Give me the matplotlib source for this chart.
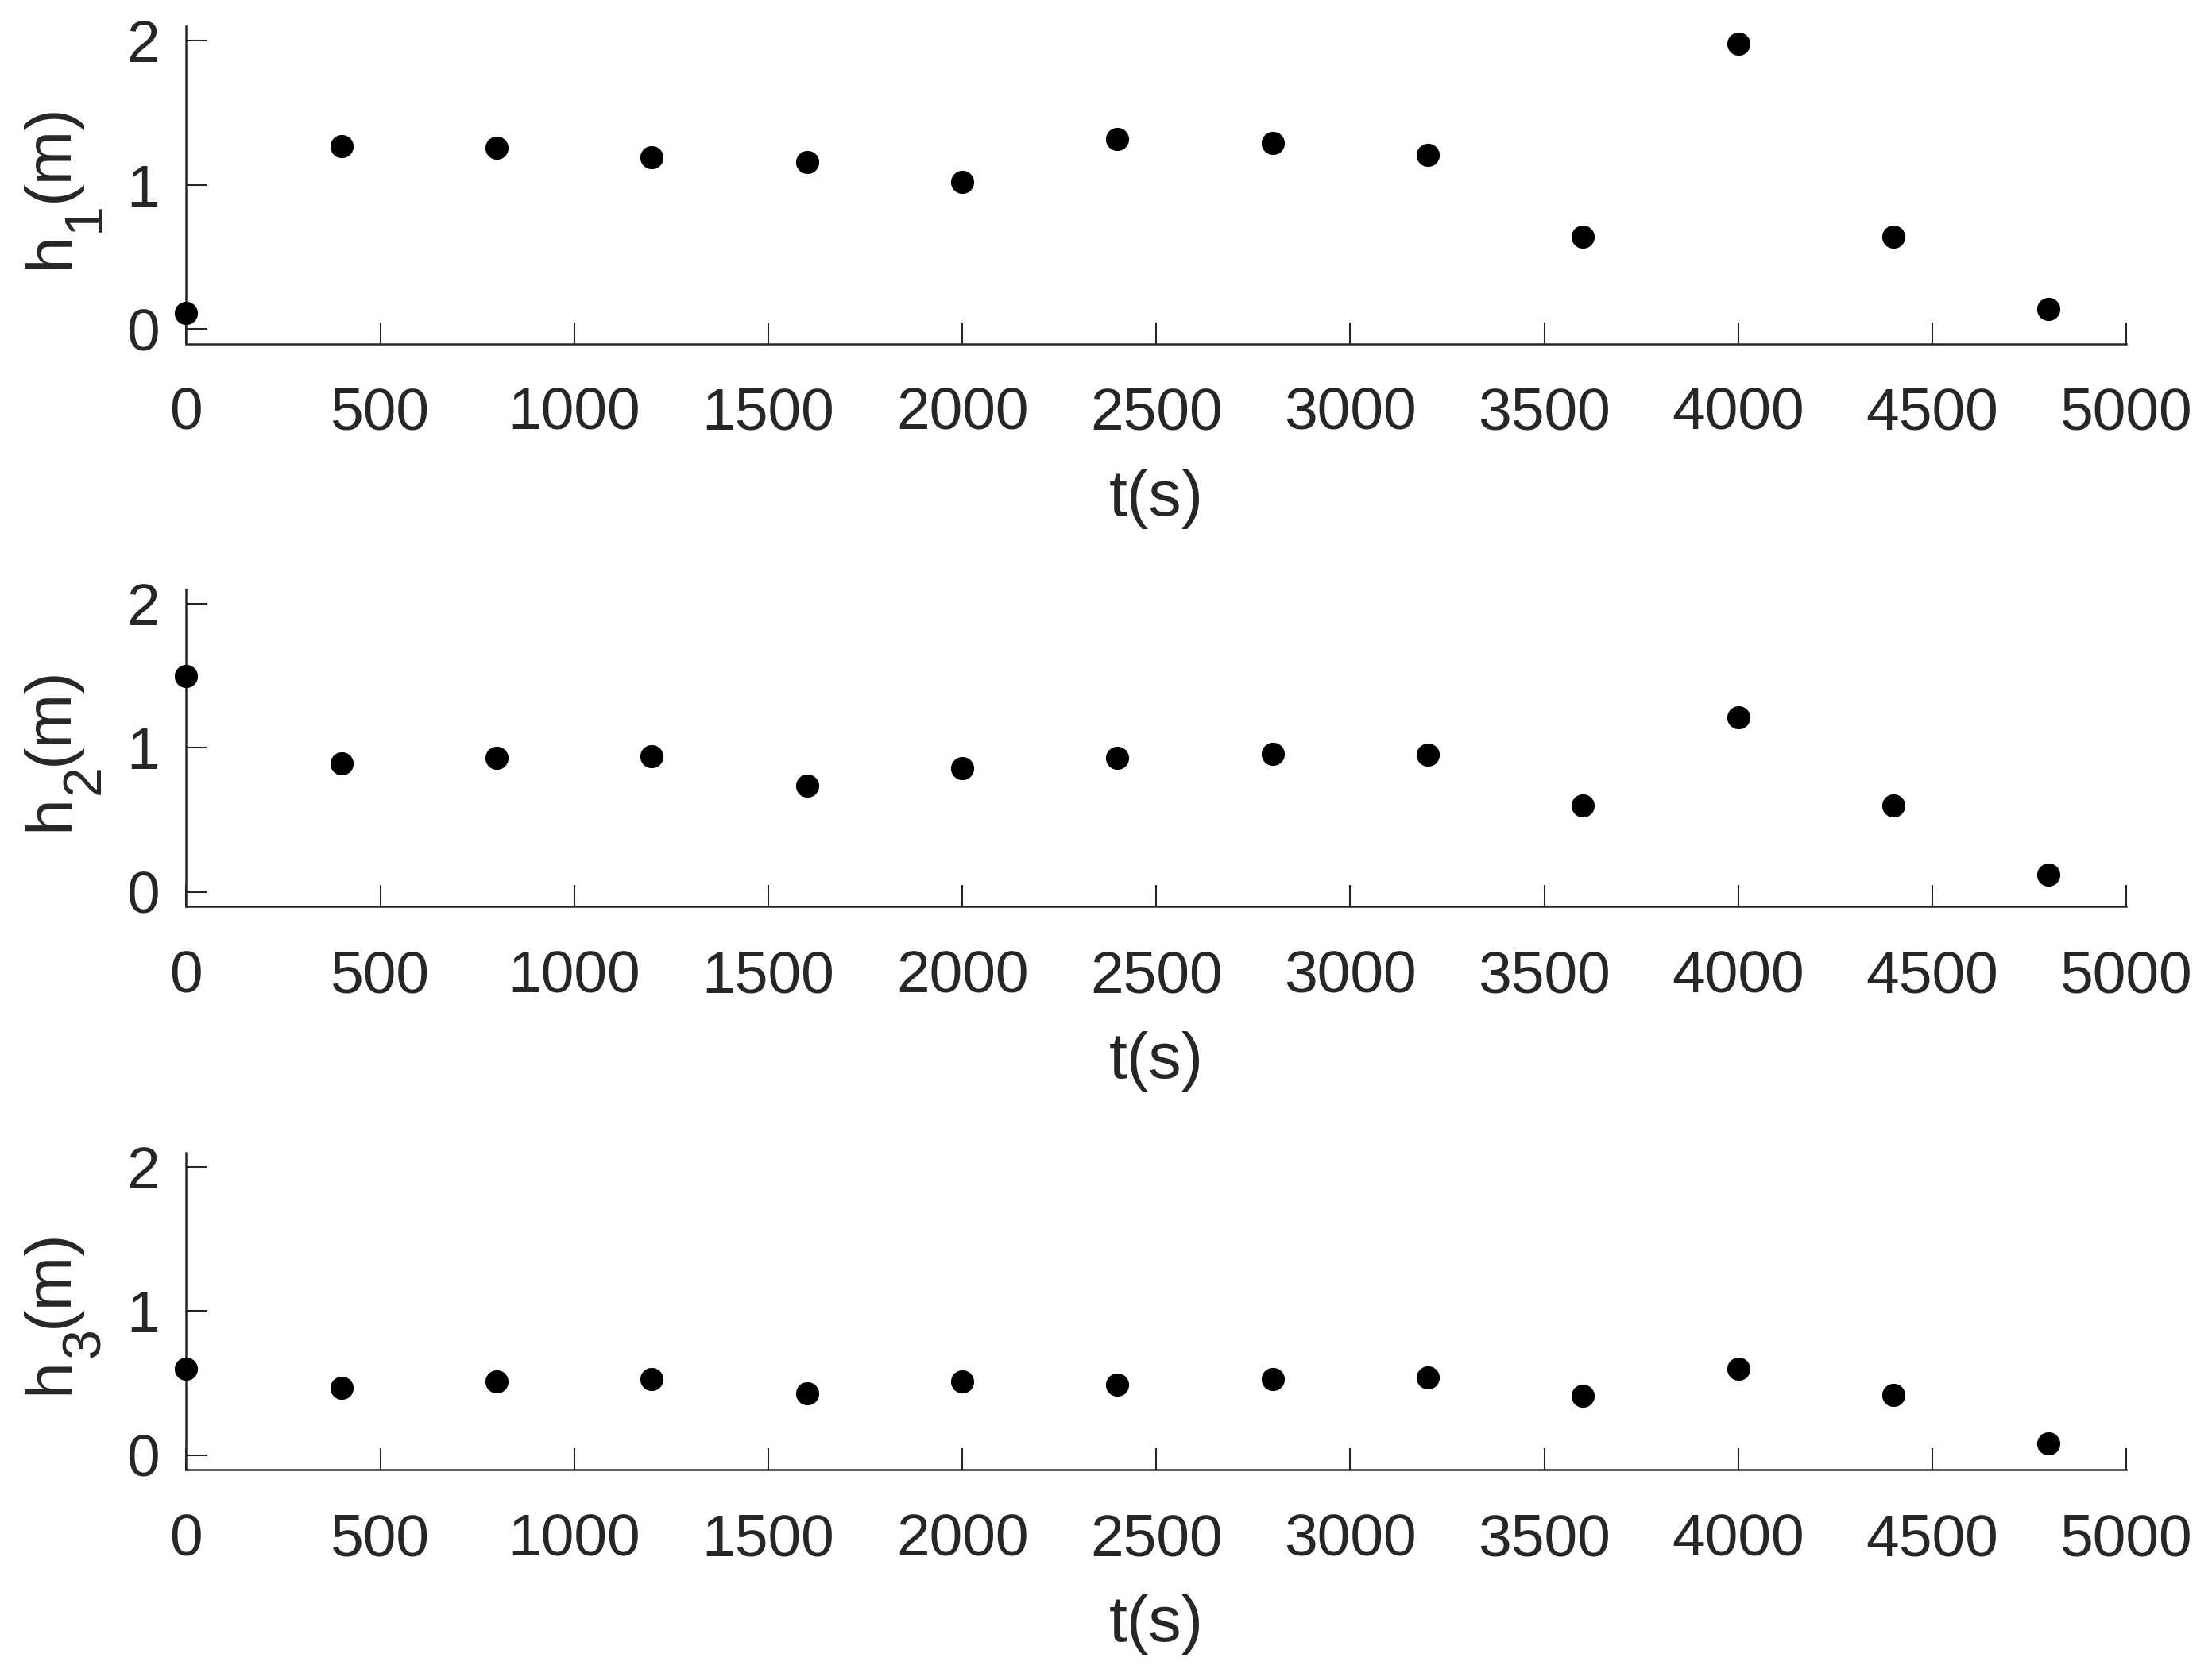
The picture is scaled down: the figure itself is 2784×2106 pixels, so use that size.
import matplotlib
matplotlib.use("Agg")
import matplotlib.pyplot as plt

# ---- data ----
t = [0, 400, 800, 1200, 1600, 2000, 2400, 2800, 3200, 3600, 4000, 4400, 4800]
h1 = [0.11, 1.27, 1.26, 1.19, 1.16, 1.02, 1.32, 1.29, 1.21, 0.64, 1.98, 0.64, 0.14]
h2 = [1.50, 0.89, 0.93, 0.94, 0.74, 0.86, 0.93, 0.96, 0.95, 0.60, 1.21, 0.60, 0.12]
h3 = [0.60, 0.47, 0.51, 0.53, 0.43, 0.51, 0.49, 0.53, 0.54, 0.41, 0.60, 0.42, 0.08]
series = [h1, h2, h3]
ylabel_main = "h"
ylabel_subs = ["1", "2", "3"]
ylabel_unit = "(m)"
xlabel = "t(s)"
xticks = [0, 500, 1000, 1500, 2000, 2500, 3000, 3500, 4000, 4500, 5000]
yticks = [0, 1, 2]

TXT = "#262626"
plt.rcParams["font.family"] = ["Liberation Sans", "DejaVu Sans"]

fig = plt.figure(figsize=(9.28, 7.02), dpi=300)
fig.patch.set_facecolor("white")

W, H = 2784.0, 2106.0
left = 234.4 / W
width = (2676.0 - 234.4) / W
height = 399.3 / H
bottoms_px = [432.5, 1141.0, 1850.0]

LABEL_FS = 19.8
SUB_FS = 16.4
bx = (85.0 - 234.4) / 2441.6   # baseline of ylabel in axes fraction
sy = 0.237                      # start of ylabel along the axis

for i, ys in enumerate(series):
    ax = fig.add_axes([left, 1 - bottoms_px[i] / H, width, height])
    ax.plot(t, ys, linestyle="none", marker="o", markersize=7,
            markerfacecolor="black", markeredgewidth=0, color="black",
            clip_on=False, zorder=3)
    ax.set_xlim(0, 5000)
    ax.set_ylim(-0.1, 2.1)
    ax.set_xticks(xticks)
    ax.set_yticks(yticks)
    ax.set_xticklabels([str(v) for v in xticks])
    ax.set_yticklabels([str(v) for v in yticks])
    for s in ["top", "right"]:
        ax.spines[s].set_visible(False)
    for s in ["left", "bottom"]:
        ax.spines[s].set_color(TXT)
        ax.spines[s].set_linewidth(0.6)
    ax.tick_params(axis="both", direction="in", length=6.5, width=0.5,
                   colors=TXT, labelsize=18)
    ax.tick_params(axis="x", pad=13)
    ax.tick_params(axis="y", pad=8)

    # y label "h_i(m)" built from pieces (MATLAB-style large subscript)
    kw = dict(rotation=90, rotation_mode="anchor", ha="left", va="baseline",
              color=TXT, annotation_clip=False)
    a1 = ax.annotate(ylabel_main, xy=(bx, sy), xycoords="axes fraction",
                     fontsize=LABEL_FS, **kw)
    a2 = ax.annotate(ylabel_subs[i], xy=(bx, 1), xycoords=("axes fraction", a1),
                     xytext=(40, 0), textcoords="offset pixels",
                     fontsize=SUB_FS, **kw)
    a3 = ax.annotate(ylabel_unit, xy=(bx, 1), xycoords=("axes fraction", a2),
                     fontsize=LABEL_FS, **kw)

    ax.set_xlabel(xlabel, fontsize=LABEL_FS, color=TXT, va="top")
    ax.xaxis.set_label_coords(0.5, -0.394)

fig.savefig("out.png", dpi=300, facecolor="white")
